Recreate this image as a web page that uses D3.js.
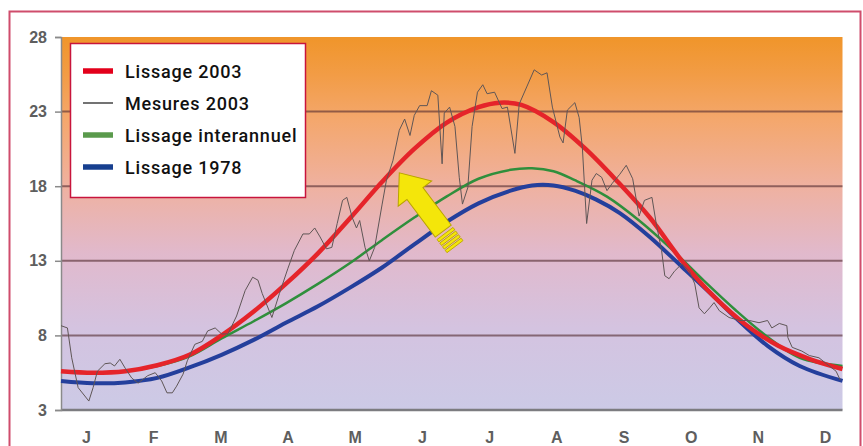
<!DOCTYPE html>
<html>
<head>
<meta charset="utf-8">
<script src="https://cdn.jsdelivr.net/npm/d3@7"></script>
<style>
  html, body { margin: 0; padding: 0; background: #fff; }
  svg { display: block; }
</style>
</head>
<body>
<svg id="chart" width="863" height="446"></svg>
<script>
// ---------- DATA ----------
const monthLabels = ["J","F","M","A","M","J","J","A","S","O","N","D"];
const yTickValues = [3, 8, 13, 18, 23, 28];

const legendLabels = ["Lissage 2003", "Mesures 2003", "Lissage interannuel", "Lissage 1978"];

// Lissage 2003 (day of year, °C)
const lissage2003Days   = [0, 15, 30, 45, 60, 75, 90, 105, 120, 135, 150, 165, 180, 195, 205, 215, 230, 245, 260, 275, 290, 305, 320, 335, 350, 365];
const lissage2003Values = [5.6, 5.5, 5.6, 6.0, 6.7, 8.0, 9.6, 11.45, 13.5, 15.85, 18.3, 20.5, 22.25, 23.3, 23.6, 23.45, 22.3, 20.5, 18.3, 15.9, 13.0, 10.6, 8.7, 7.3, 6.4, 5.75];

// Lissage interannuel
const interannuelDays   = [0, 15, 30, 45, 60, 75, 90, 105, 120, 135, 150, 165, 180, 195, 210, 220, 230, 240, 255, 270, 285, 300, 315, 330, 345, 365];
const interannuelValues = [5.6, 5.5, 5.6, 5.95, 6.6, 7.8, 8.95, 10.15, 11.45, 12.85, 14.4, 15.9, 17.3, 18.5, 19.1, 19.2, 19.0, 18.4, 17.3, 15.7, 13.8, 11.7, 9.7, 7.9, 6.5, 5.95];

// Lissage 1978
const lissage1978Days   = [0, 15, 30, 45, 60, 75, 90, 105, 120, 135, 150, 165, 180, 195, 210, 220, 230, 240, 250, 261, 275, 290, 305, 315, 330, 345, 365];
const lissage1978Values = [4.95, 4.8, 4.85, 5.15, 5.85, 6.7, 7.7, 8.85, 9.95, 11.2, 12.55, 14.1, 15.6, 16.85, 17.7, 18.05, 18.05, 17.7, 17.1, 16.2, 14.6, 12.6, 10.6, 9.2, 7.3, 5.95, 4.95];

const mesuresDays = [0, 3, 5, 8, 13, 15, 17, 20.5, 23, 25, 27.5, 30, 33, 36, 40.5, 44, 47, 49.5, 52, 54, 57, 59, 62.5, 66, 68.5, 72, 75, 78, 82, 86, 89.5, 92, 94, 98.5, 102, 106, 109, 113, 116, 118.5, 121, 124, 126.5, 129, 131.5, 133.5, 136, 138, 139.5, 142, 144, 146.5, 150, 152, 155, 158, 160.5, 163, 165, 167.5, 171, 173, 176, 178, 179, 181.5, 184, 186, 187.5, 190, 192, 194.5, 197, 199, 202.5, 206, 208.5, 212, 214, 217.5, 221, 224.5, 227, 229.5, 233, 234.5, 236.5, 240, 242, 243.5, 245.5, 248, 250, 252.5, 255, 257.5, 261, 264, 267, 270, 272.5, 276, 278, 280.5, 282, 284, 286.5, 290, 293.5, 296, 298, 300.5, 303, 305, 307.5, 312, 317, 321.5, 326, 330, 332, 335.5, 339, 339.5, 341.5, 346, 349.5, 354, 357.5, 362, 364];
const mesuresValues = [8.65, 8.5, 6.5, 4.5, 3.6, 4.5, 5.6, 6.1, 6.15, 5.95, 6.4, 5.8, 5.15, 4.8, 5.3, 5.5, 4.95, 4.15, 4.15, 4.6, 5.4, 6.3, 7.4, 7.6, 8.3, 8.5, 8.1, 8.1, 9.3, 11.0, 11.9, 11.7, 10.8, 9.2, 10.8, 12.5, 13.7, 14.8, 14.8, 15.2, 14.6, 13.8, 13.9, 15.5, 17.05, 17.25, 15.9, 15.2, 15.7, 13.9, 13.0, 13.9, 16.8, 18.4, 19.7, 21.75, 22.5, 21.4, 22.75, 23.4, 23.4, 24.4, 24.1, 19.5, 22.9, 23.3, 22.0, 18.6, 16.8, 17.9, 22.0, 24.3, 24.8, 24.2, 24.3, 23.2, 23.3, 20.2, 23.5, 24.65, 25.8, 25.45, 25.6, 23.3, 21.3, 20.9, 23.1, 23.6, 22.6, 20.6, 15.5, 18.4, 18.85, 18.6, 17.7, 18.2, 18.8, 19.4, 18.5, 16.0, 17.05, 17.25, 15.5, 13.7, 12.0, 11.8, 12.3, 12.8, 12.3, 11.45, 9.85, 9.45, 9.85, 10.2, 9.65, 9.2, 9.0, 9.0, 8.85, 9.0, 8.5, 8.8, 8.65, 7.85, 7.2, 6.95, 6.65, 6.5, 6.1, 5.6, 5.0];

// Arrow annotation anchor (tip position, day / °C)
const arrowTip = { day: 158, value: 18.9 };

// ---------- DRAWING ----------
const svg = d3.select("#chart");

const x = d3.scaleLinear().domain([0, 365]).range([61, 842.5]);
const y = d3.scaleLinear().domain([3, 28]).range([410, 37]);
const xMonth = d3.scalePoint().domain(d3.range(monthLabels.length)).range([86, 825]);

// outer frame
svg.append("rect")
  .attr("x", 9.5).attr("y", 11.5).attr("width", 851).attr("height", 460)
  .attr("fill", "none").attr("stroke", "#cf4d6c").attr("stroke-width", 2);

// background gradient
const defs = svg.append("defs");
const grad = defs.append("linearGradient").attr("id", "bg")
  .attr("x1", 0).attr("y1", 0).attr("x2", 0).attr("y2", 1);
[
  [0.00, "#f0952a"],
  [0.10, "#f29c45"],
  [0.22, "#f4a76c"],
  [0.40, "#efb1a0"],
  [0.58, "#e1b9cc"],
  [0.78, "#d4c3e0"],
  [1.00, "#cccae6"]
].forEach(([o, c]) => grad.append("stop").attr("offset", o).attr("stop-color", c));

svg.append("rect")
  .attr("x", x(0)).attr("y", y(28))
  .attr("width", x(365) - x(0)).attr("height", y(3) - y(28))
  .attr("fill", "url(#bg)");

// gridlines
svg.append("g").selectAll("line")
  .data(yTickValues.filter(v => v !== 3 && v !== 28))
  .join("line")
  .attr("x1", x(0)).attr("x2", x(365))
  .attr("y1", d => y(d)).attr("y2", d => y(d))
  .attr("stroke", "rgba(85,45,50,0.62)").attr("stroke-width", 2);

// bottom baseline
svg.append("line")
  .attr("x1", x(0)).attr("x2", x(365))
  .attr("y1", y(3)).attr("y2", y(3))
  .attr("stroke", "#7c7c80").attr("stroke-width", 2.5);

// y axis
const yAxis = svg.append("g")
  .attr("transform", `translate(${x(0)},0)`)
  .call(d3.axisLeft(y).tickValues(yTickValues).tickSize(6).tickPadding(8));
yAxis.select(".domain").attr("stroke", "#8a8a8a").attr("stroke-width", 1.5);
yAxis.selectAll(".tick line").attr("stroke", "#8a8a8a").attr("stroke-width", 1.5);
yAxis.selectAll(".tick text")
  .attr("fill", "#5e5e5e")
  .style("font-family", "'Liberation Sans', Arial, sans-serif")
  .style("font-weight", "bold")
  .style("font-size", "16px");

// x (month) axis
const xAxis = svg.append("g")
  .attr("transform", `translate(0,${y(3)})`)
  .call(d3.axisBottom(xMonth).tickSize(0).tickPadding(22).tickFormat(i => monthLabels[i]));
xAxis.select(".domain").remove();
xAxis.selectAll(".tick text")
  .attr("fill", "#5e5e5e")
  .style("font-family", "'Liberation Sans', Arial, sans-serif")
  .style("font-weight", "bold")
  .style("font-size", "16px");

// smoothed curves
const smoothLine = d3.line()
  .x(d => x(d[0])).y(d => y(d[1]))
  .curve(d3.curveCatmullRom.alpha(0.5));

const zip = (a, b) => a.map((v, i) => [v, b[i]]);

svg.append("path")
  .attr("d", smoothLine(zip(lissage1978Days, lissage1978Values)))
  .attr("fill", "none").attr("stroke", "#243f9c").attr("stroke-width", 4);

svg.append("path")
  .attr("d", smoothLine(zip(interannuelDays, interannuelValues)))
  .attr("fill", "none").attr("stroke", "#2f8f3c").attr("stroke-width", 2.5);

svg.append("path")
  .attr("d", smoothLine(zip(lissage2003Days, lissage2003Values)))
  .attr("fill", "none").attr("stroke", "#e5242a").attr("stroke-width", 4.5);

// measurements
const rawLine = d3.line().x(d => x(d[0])).y(d => y(d[1])).curve(d3.curveLinear);
svg.append("path")
  .attr("d", rawLine(zip(mesuresDays, mesuresValues)))
  .attr("fill", "none").attr("stroke", "#5f5656").attr("stroke-width", 1)
  .attr("stroke-linejoin", "round");

// arrow annotation
const arrow = svg.append("g")
  .attr("transform", `translate(${x(arrowTip.day)},${y(arrowTip.value)}) rotate(-127)`);
arrow.append("path")
  .attr("d", "M0,0 L-26,-21 L-26,-10 L-73,-10 L-73,10 L-26,10 L-26,21 Z")
  .attr("fill", "#f4e60a").attr("stroke", "#b9a300").attr("stroke-width", 1);
[-76, -80.5, -85, -89.5].forEach(px => {
  arrow.append("rect")
    .attr("x", px - 3).attr("y", -10).attr("width", 3).attr("height", 20)
    .attr("fill", "#f4e60a").attr("stroke", "#b9a300").attr("stroke-width", 0.8);
});

// legend
const legend = svg.append("g");
legend.append("rect")
  .attr("x", 70.5).attr("y", 43.5).attr("width", 235).attr("height", 154)
  .attr("fill", "#fff").attr("stroke", "#c8143c").attr("stroke-width", 1.5);

const legendColors = ["#e3001b", "#444", "#5a9a4c", "#173f8f"];
const legendWidths = [5.5, 1.5, 5.5, 5.5];
const legendRow = d3.scaleBand().domain(d3.range(legendLabels.length)).range([55, 183]);

legendLabels.forEach((lab, i) => {
  const cy = legendRow(i) + legendRow.bandwidth() / 2;
  legend.append("line")
    .attr("x1", 83).attr("x2", 113).attr("y1", cy).attr("y2", cy)
    .attr("stroke", legendColors[i]).attr("stroke-width", legendWidths[i]);
  legend.append("text")
    .attr("x", 125).attr("y", cy + 6.5)
    .text(lab)
    .attr("fill", "#111")
    .style("font-family", "Roboto, sans-serif")
    .style("font-weight", 500)
    .style("font-size", "18px")
    .style("letter-spacing", "0.8px");
});
</script>
</body>
</html>
